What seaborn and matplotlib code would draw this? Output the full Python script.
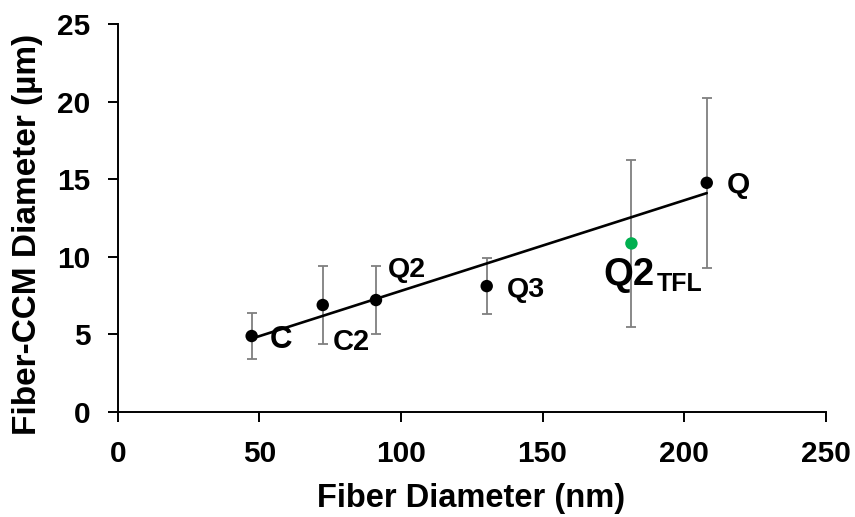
import matplotlib
matplotlib.use("Agg")
import matplotlib.pyplot as plt
import seaborn as sns
import numpy as np
import pandas as pd

# ---- data ----
labels = ["C", "C2", "Q2", "Q3", "Q2TFL", "Q"]
fiber_nm = [47.3, 72.4, 91.2, 130.3, 181.4, 208.0]
ccm_um = [4.88, 6.88, 7.2, 8.1, 10.85, 14.76]
ccm_err = [1.5, 2.5, 2.2, 1.8, 5.4, 5.47]
group = ["std", "std", "std", "std", "tfl", "std"]
x_ticks = [0, 50, 100, 150, 200, 250]
y_ticks = [0, 5, 10, 15, 20, 25]

df = pd.DataFrame({"label": labels, "fiber": fiber_nm, "ccm": ccm_um,
                   "err": ccm_err, "group": group})
fit_df = df[df["group"] == "std"]

sns.set_theme(style="ticks")
plt.rcParams["font.family"] = ["Liberation Sans", "DejaVu Sans"]
plt.rcParams["font.weight"] = "bold"
for k in ["text.color", "axes.labelcolor", "xtick.color", "ytick.color", "axes.edgecolor"]:
    plt.rcParams[k] = "black"

fig = plt.figure(figsize=(8.55, 5.17), dpi=100)
ax = fig.add_axes([117.7 / 855, 1 - 411.7 / 517, (825.7 - 117.7) / 855, (411.7 - 24) / 517])

# error bars
ax.errorbar(df["fiber"], df["ccm"], yerr=df["err"], fmt="none",
            ecolor="#7f7f7f", elinewidth=1.3, capsize=3.8, capthick=1.3, zorder=2)

# trend line (linear fit of the black points)
sns.regplot(data=fit_df, x="fiber", y="ccm", scatter=False, ci=None, ax=ax,
            line_kws=dict(color="black", lw=1.9, zorder=3), truncate=True)

# points
sns.scatterplot(data=df, x="fiber", y="ccm", hue="group",
                palette={"std": "black", "tfl": "#00B050"}, s=80,
                edgecolor="none", legend=False, ax=ax, zorder=4)

# point labels (offsets in pixels)
lbl_style = {
    "C": ((18, -12), 22.5),
    "C2": ((10, -45), 21),
    "Q2": ((12, 23), 20.5),
    "Q3": ((20, -11), 20.5),
    "Q": ((20, -10), 21.5),
}
for lab, xv, yv in zip(labels, fiber_nm, ccm_um):
    if lab in lbl_style:
        (dx, dy), fs = lbl_style[lab]
        ax.annotate(lab, (xv, yv), xytext=(dx, dy), textcoords="offset pixels",
                    ha="left", va="baseline", fontsize=fs, fontweight="bold")
    elif lab == "Q2TFL":
        ax.annotate("Q2", (xv, yv), xytext=(-28, -42), textcoords="offset pixels",
                    ha="left", va="baseline", fontsize=27.5, fontweight="bold")
        ax.annotate("TFL", (xv, yv), xytext=(25, -48), textcoords="offset pixels",
                    ha="left", va="baseline", fontsize=18, fontweight="bold")

ax.set_xlim(0, 250)
ax.set_ylim(0, 25)
ax.set_xticks(x_ticks)
ax.set_yticks(y_ticks)
ax.set_xticklabels([str(t) for t in x_ticks], fontsize=21.5, fontweight="bold")
ax.set_yticklabels([str(t) for t in y_ticks], fontsize=21.5, fontweight="bold")
ax.tick_params(axis="both", length=7.5, width=1.4, color="black", direction="out")
ax.tick_params(axis="x", pad=13)
ax.tick_params(axis="y", pad=12)

for s in ["top", "right"]:
    ax.spines[s].set_visible(False)
for s in ["left", "bottom"]:
    ax.spines[s].set_color("black")
    ax.spines[s].set_linewidth(1.4)

ax.set_xlabel("Fiber Diameter (nm)", fontsize=23.5, fontweight="bold")
ax.set_ylabel("Fiber-CCM Diameter (µm)", fontsize=24, fontweight="bold")
ax.xaxis.set_label_coords(0.499, -0.185)
ax.yaxis.set_label_coords(-0.106, 0.456)

fig.savefig("out.png", dpi=100, facecolor="white")
